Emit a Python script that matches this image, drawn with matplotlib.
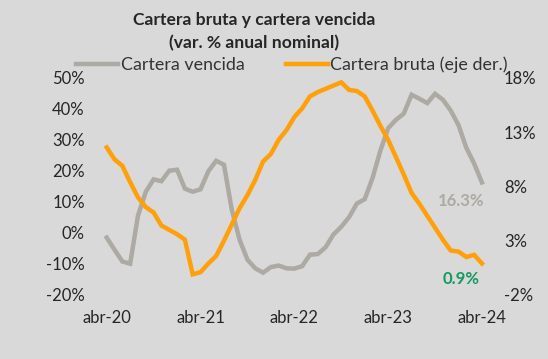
import matplotlib
matplotlib.use("Agg")
from matplotlib import pyplot as plt
import numpy as np

plt.rcParams['font.family'] = ['Lato', 'DejaVu Sans']

# monthly, abr-20 .. abr-24
months = np.arange(49)
tick_pos = [0, 12, 24, 36, 48]
tick_labels = ['abr-20', 'abr-21', 'abr-22', 'abr-23', 'abr-24']

# cartera vencida, var. % anual (left axis)
vencida = [-1.5, -5.4, -9.2, -9.9, 5.6, 13.3, 17.3, 16.7, 20.1, 20.4,
           14.3, 13.3, 14.1, 19.9, 23.3, 22.0, 7.5, -2.2, -8.6, -11.4,
           -12.8, -11.0, -10.5, -11.4, -11.5, -10.7, -7.0, -6.8, -4.6, -0.5,
           2.0, 5.1, 9.5, 10.9, 17.7, 26.5, 33.8, 36.5, 38.5, 44.6,
           43.3, 41.9, 44.9, 43.0, 39.5, 34.8, 27.5, 22.4, 16.3]

# cartera bruta, var. % anual (right axis)
bruta = [11.6, 10.5, 9.9, 8.4, 7.0, 6.1, 5.6, 4.4, 4.0, 3.6,
         3.1, -0.1, 0.1, 0.9, 1.6, 3.0, 4.5, 6.0, 7.2, 8.6,
         10.3, 11.0, 12.3, 13.2, 14.4, 15.2, 16.3, 16.7, 17.0, 17.3,
         17.6, 16.9, 16.8, 16.3, 15.0, 13.6, 12.3, 10.7, 9.1, 7.4,
         6.4, 5.3, 4.2, 3.1, 2.1, 2.0, 1.5, 1.7, 0.9]

left_ticks = [-20, -10, 0, 10, 20, 30, 40, 50]
right_ticks = [-2, 3, 8, 13, 18]

bg = '#D9D9D9'
gray = '#ADA9A3'
orange = '#FFA00A'
green = '#139A62'
txt = '#262626'

fig = plt.figure(figsize=(5.48, 3.59), dpi=100, facecolor=bg)
rend = fig.canvas.get_renderer()


# font size that makes a string a given width in pixels
def fit_size(s, width_px, weight='normal'):
    t = fig.text(0, 0, s, fontsize=10, fontweight=weight)
    w = t.get_window_extent(renderer=rend).width
    t.remove()
    return 10 * width_px / w


ax = fig.add_axes([0.1876, 0.1783, 0.699, 0.6045])
ax.set_facecolor(bg)
ax2 = ax.twinx()

l1, = ax.plot(months, vencida, color=gray, lw=3.2, solid_joinstyle='miter', label='Cartera vencida')
l2, = ax2.plot(months, bruta, color=orange, lw=3.2, solid_joinstyle='miter', label='Cartera bruta (eje der.)')

ax.set_xlim(-0.5, 48.5)
ax.set_ylim(-20, 50)
ax2.set_ylim(-2, 18)
ax.set_yticks(left_ticks)
ax.set_yticklabels([f'{v}%' for v in left_ticks])
ax2.set_yticks(right_ticks)
ax2.set_yticklabels([f'{v}%' for v in right_ticks])
ax.set_xticks(tick_pos)
ax.set_xticklabels(tick_labels)

for a in (ax, ax2):
    for s in a.spines.values():
        s.set_visible(False)
    a.tick_params(length=0, labelsize=12, colors=txt)
ax.tick_params(axis='y', pad=13)
ax2.tick_params(axis='y', pad=13)
ax.tick_params(axis='x', pad=11)

# end labels
ax.annotate(f'{vencida[-1]:.1f}%', xy=(months[-1], vencida[-1]), xytext=(-15, -13),
            textcoords='offset points', ha='center', va='center',
            fontsize=12, fontweight='bold', color=gray)
ax2.annotate(f'{bruta[-1]:.1f}%', xy=(months[-1], bruta[-1]), xytext=(-15, -11),
             textcoords='offset points', ha='center', va='center',
             fontsize=12, fontweight='bold', color=green)

title1 = 'Cartera bruta y cartera vencida'
title2 = '(var. % anual nominal)'
fs_t = fit_size(title1, 242, 'bold')
fig.text(254 / 548, 1 - 20 / 359, title1, ha='center', va='center',
         fontsize=fs_t, fontweight='bold', color=txt)
fig.text(254 / 548, 1 - 43 / 359, title2, ha='center', va='center',
         fontsize=fs_t, fontweight='bold', color=txt)

fs_l = fit_size('Cartera vencida', 124)
leg = fig.legend(handles=[l1, l2], loc='center left', bbox_to_anchor=(76 / 548, 1 - 65 / 359),
                 ncol=2, frameon=False, fontsize=fs_l, handlelength=42 / (fs_l * 100 / 72),
                 handletextpad=0.15, columnspacing=2.3, borderpad=0, borderaxespad=0,
                 labelcolor='#333333')

fig.savefig('out.png', dpi=100, facecolor=bg)
